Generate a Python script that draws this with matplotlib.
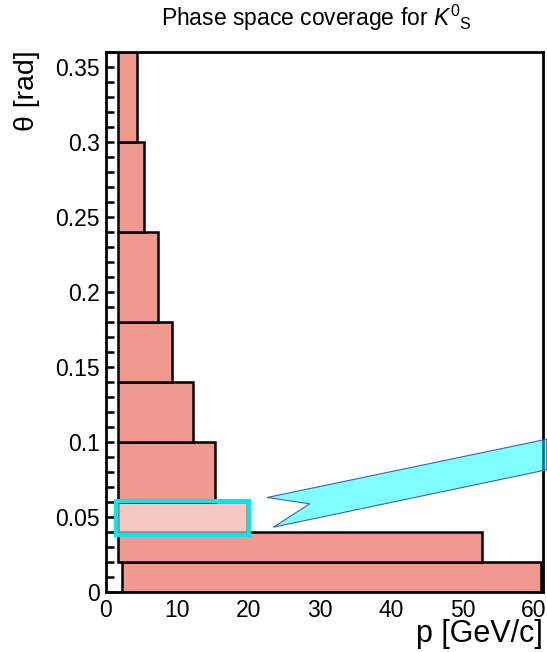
import numpy as np
import matplotlib
matplotlib.use("Agg")
import matplotlib.pyplot as plt
from matplotlib.patches import Rectangle, Polygon
from matplotlib.ticker import MultipleLocator

plt.rcParams["font.family"] = ["Liberation Sans", "DejaVu Sans"]
plt.rcParams["mathtext.fontset"] = "custom"
plt.rcParams["mathtext.rm"] = "Liberation Sans"
plt.rcParams["mathtext.it"] = "Liberation Sans:italic"

# theta bins [rad] and the momentum range covered in each [GeV/c]
theta_lo = [0.00, 0.02, 0.04, 0.06, 0.10, 0.14, 0.18, 0.24, 0.30]
theta_hi = [0.02, 0.04, 0.06, 0.10, 0.14, 0.18, 0.24, 0.30, 0.36]
p_lo = [2.3, 1.8, 1.8, 1.8, 1.8, 1.8, 1.8, 1.8, 1.8]
p_hi = [61.0, 52.7, 19.8, 15.3, 12.3, 9.3, 7.3, 5.4, 4.4]
highlight = 2  # bin marked by the cyan frame

# cyan arrow outline (p, theta)
arrow_p = [22.6, 61.8, 61.8, 23.5, 28.6]
arrow_theta = [0.0628, 0.1017, 0.0813, 0.0430, 0.0586]

x_ticks = [0, 10, 20, 30, 40, 50, 60]
y_ticks = [0, 0.05, 0.1, 0.15, 0.2, 0.25, 0.3, 0.35]
y_ticklabels = ["0", "0.05", "0.1", "0.15", "0.2", "0.25", "0.3", "0.35"]

fig = plt.figure(figsize=(5.47, 6.52), dpi=100)
ax = fig.add_axes([0.193, 0.0925, 0.800, 0.828])

lo = np.array(theta_lo)
hi = np.array(theta_hi)
pl = np.array(p_lo)
ph = np.array(p_hi)
colors = ["#f0998f"] * len(lo)
edges = ["black"] * len(lo)
colors[highlight] = "#f7c9c4"
edges[highlight] = "#8a8a8a"
ax.barh(lo, ph - pl, height=hi - lo, left=pl, align="edge",
        color=colors, edgecolor=edges, linewidth=1.8, zorder=2)

# cyan frame around the highlighted bin
ax.add_patch(Rectangle((1.4, 0.0377), 20.05 - 1.4, 0.0604 - 0.0377,
                       fill=False, edgecolor="#00e8f0", linewidth=2.9, zorder=4))

ax.add_patch(Polygon(np.column_stack([arrow_p, arrow_theta]), closed=True,
                     facecolor=(0.0, 1.0, 1.0, 0.5), edgecolor="#3a62b8",
                     linewidth=0.8, zorder=5, clip_on=False))

ax.set_xlim(0, 61.3)
ax.set_ylim(0, 0.36)
ax.set_xticks(x_ticks)
ax.set_yticks(y_ticks)
ax.set_yticklabels(y_ticklabels)
ax.yaxis.set_minor_locator(MultipleLocator(0.01))
ax.tick_params(axis="y", which="both", direction="in", length=5.5, width=1.8,
               labelsize=16.5, pad=4)
ax.tick_params(axis="x", length=0, labelsize=16.5, pad=5)
for s in ax.spines.values():
    s.set_linewidth(2.0)
    s.set_zorder(3)

fig.text(0.578, 0.972, r"Phase space coverage for $K^{0}{}_{\mathrm{S}}$",
         ha="center", va="center", fontsize=16.5)
fig.text(0.049, 0.922, "\u03b8 [rad]", rotation=90, ha="center", va="top",
         fontsize=20.5)
fig.text(0.993, 0.004, "p [GeV/c]", ha="right", va="bottom", fontsize=22)

fig.savefig("out.png", dpi=100)
